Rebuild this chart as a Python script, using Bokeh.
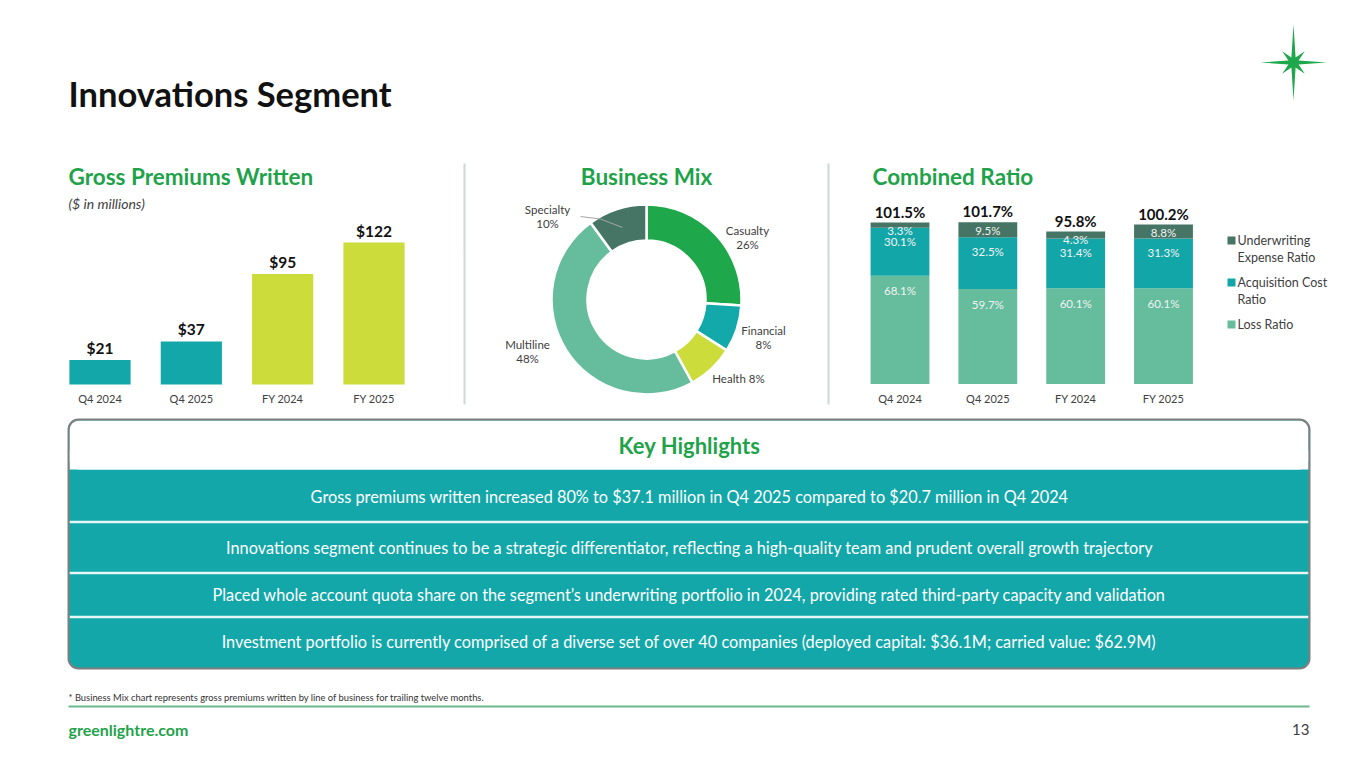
import numpy as np
from bokeh.plotting import figure
from bokeh.models import Range1d, ColumnDataSource
from bokeh.core.properties import value
from bokeh.embed import file_html
from bokeh.resources import INLINE

# ---------------- data ----------------
gpw_periods = ["Q4 2024", "Q4 2025", "FY 2024", "FY 2025"]
gpw_values = [21, 37, 95, 122]
gpw_labels = ["$21", "$37", "$95", "$122"]

mix_lines = ["Casualty", "Financial", "Health", "Multiline", "Specialty"]
mix_shares = [26, 8, 8, 48, 10]

cr_periods = ["Q4 2024", "Q4 2025", "FY 2024", "FY 2025"]
loss_ratio = [68.1, 59.7, 60.1, 60.1]
acq_ratio = [30.1, 32.5, 31.4, 31.3]
uw_ratio = [3.3, 9.5, 4.3, 8.8]
cr_total = [101.5, 101.7, 95.8, 100.2]
cr_legend = ["Underwriting\nExpense Ratio", "Acquisition Cost\nRatio", "Loss Ratio"]

highlights = [
    "Gross premiums written increased 80% to $37.1 million in Q4 2025 compared to $20.7 million in Q4 2024",
    "Innovations segment continues to be a strategic differentiator, reflecting a high-quality team and prudent overall growth trajectory",
    "Placed whole account quota share on the segment\u2019s underwriting portfolio in 2024, providing rated third-party capacity and validation",
    "Investment portfolio is currently comprised of a diverse set of over 40 companies (deployed capital: $36.1M; carried value: $62.9M)",
]

# ---------------- styles ----------------
GREEN = "#1FA34A"
TEAL = "#13A7A9"
LIME = "#CCDC3A"
LOSS_C = "#66BD9E"
ACQ_C = "#13A6A8"
UW_C = "#467566"
MIX_COLORS = ["#1EA84B", "#13A8AA", "#CCDC3A", "#66BD9E", "#467566"]
FONT = "Lato"

W, H = 1349, 748
OX, OY = 0, 0

p = figure(width=W, height=H, x_range=Range1d(OX, OX + W), y_range=Range1d(OY + H, OY),
           output_backend="svg", toolbar_location=None, min_border=0,
           x_axis_location=None, y_axis_location=None)
p.xgrid.visible = False
p.ygrid.visible = False
p.outline_line_color = None
p.background_fill_color = "white"
p.border_fill_color = "white"


def mapped_range(pa, va, pb, vb, p_start, p_end):
    s = (vb - va) / (pb - pa)
    return Range1d(va + (p_start - pa) * s, va + (p_end - pa) * s)


def txt(x, y, s, size, color="#262626", font=FONT, style="normal", align="left",
        baseline="middle", **kw):
    p.text(x=[x], y=[y], text=[s], text_font=value(font), text_font_size=f"{size}px",
           text_font_style=style, text_color=color, text_align=align,
           text_baseline=baseline, **kw)


# ---------------- header ----------------
txt(68, 93, "Innovations Segment", 34.5, color="#111111", style="bold")

# star logo
cx, cy = 1293, 62
ang = np.arange(16) * np.pi / 8
rad = []
for k in range(16):
    if k % 4 == 0:
        rad.append(33 if k % 8 == 0 else 38)
    elif k % 2 == 0:
        rad.append(16)
    else:
        rad.append(5.5)
rad = np.array(rad)
p.patch(cx + rad * np.cos(ang), cy - rad * np.sin(ang), color="#1EA84B", line_color=None)

# section headers
txt(68, 176, "Gross Premiums Written", 22.5, color=GREEN, style="bold")
txt(68, 203, "($ in millions)", 14, color="#404040", style="italic")
txt(646, 176, "Business Mix", 22.5, color=GREEN, style="bold", align="center")
txt(872, 176, "Combined Ratio", 22.5, color=GREEN, style="bold")

p.segment(x0=[464, 828], y0=[163, 163], x1=[464, 828], y1=[404, 404],
          line_color="#CFD8D2", line_width=2)

# ---------------- Gross premiums written ----------------
p.extra_x_ranges["gx"] = mapped_range(99.5, 0, 373.5, 3, OX, OX + W)
p.extra_y_ranges["gy"] = mapped_range(384, 0, 242, 122, OY + H, OY)
gidx = list(range(len(gpw_periods)))
gcol = [TEAL if s.startswith("Q4") else LIME for s in gpw_periods]
p.vbar(x=gidx, top=gpw_values, bottom=0, width=0.67, fill_color=gcol, line_color=None,
       x_range_name="gx", y_range_name="gy")
p.text(x=gidx, y=gpw_values, text=gpw_labels, y_offset=-12, text_align="center",
       text_baseline="middle", text_font=value(FONT), text_font_size="15.5px",
       text_font_style="bold", text_color="#111111", x_range_name="gx", y_range_name="gy")
p.text(x=gidx, y=[0] * len(gidx), text=gpw_periods, y_offset=14, text_align="center",
       text_baseline="middle", text_font=value(FONT), text_font_size="11px",
       text_color="#404040", x_range_name="gx", y_range_name="gy")

# ---------------- Business mix donut ----------------
p.extra_x_ranges["px"] = mapped_range(646, 0, 746, 100, OX, OX + W)
p.extra_y_ranges["py"] = mapped_range(299, 0, 199, 100, OY + H, OY)
shares = np.array(mix_shares, dtype=float)
cum = np.concatenate([[0], np.cumsum(shares)]) / shares.sum()
starts = np.pi / 2 - 2 * np.pi * cum[:-1]
ends = np.pi / 2 - 2 * np.pi * cum[1:]
p.annular_wedge(x=0, y=0, inner_radius=59, outer_radius=95, start_angle=starts,
                end_angle=ends, direction="clock", fill_color=MIX_COLORS,
                line_color="white", line_width=2.5, x_range_name="px", y_range_name="py")
LABEL_POS = [(101, 62), (117, -38), (92, -79), (-119, -52), (-99, 83)]
LABEL_SEP = ["\n", "\n", " ", "\n", "\n"]
mix_text = [f"{n}{sep}{s}%" for n, s, sep in zip(mix_lines, mix_shares, LABEL_SEP)]
p.text(x=[q[0] for q in LABEL_POS], y=[q[1] for q in LABEL_POS], text=mix_text,
       text_align="center", text_baseline="middle", text_font=value(FONT),
       text_font_size="11.5px", text_color="#404040", text_line_height=1.15,
       x_range_name="px", y_range_name="py")
p.line(x=[-66, -46, -24], y=[83, 80.5, 72], line_color="#A6A6A6", line_width=1,
       x_range_name="px", y_range_name="py")

# ---------------- Combined ratio ----------------
p.extra_x_ranges["cx"] = mapped_range(899.5, 0, 1163, 3, OX, OX + W)
p.extra_y_ranges["cy"] = mapped_range(383.5, 0, 222, 101.5, OY + H, OY)
cidx = list(range(len(cr_periods)))
loss = np.array(loss_ratio)
acq = np.array(acq_ratio)
uw = np.array(uw_ratio)
src = ColumnDataSource(dict(x=cidx, loss=loss, acq=acq, uw=uw))
p.vbar_stack(["loss", "acq", "uw"], x="x", width=0.67, color=[LOSS_C, ACQ_C, UW_C],
             line_color=None, source=src, x_range_name="cx", y_range_name="cy")
lab_kw = dict(text_align="center", text_baseline="middle", text_font=value(FONT),
              text_font_size="11.5px", text_color="#F2F2F2",
              x_range_name="cx", y_range_name="cy")
p.text(x=cidx, y=loss, text=[f"{v:.1f}%" for v in loss], y_offset=15, **lab_kw)
p.text(x=cidx, y=loss + acq, text=[f"{v:.1f}%" for v in acq], y_offset=14, **lab_kw)
p.text(x=cidx, y=loss + acq + uw, text=[f"{v:.1f}%" for v in uw], y_offset=8, **lab_kw)
p.text(x=cidx, y=cr_total, text=[f"{v:.1f}%" for v in cr_total], y_offset=-2,
       text_align="center", text_baseline="bottom", text_font=value(FONT),
       text_font_size="15px", text_font_style="bold", text_color="#111111",
       x_range_name="cx", y_range_name="cy")
p.text(x=cidx, y=[0] * len(cidx), text=cr_periods, y_offset=14, text_align="center",
       text_baseline="middle", text_font=value(FONT), text_font_size="11px",
       text_color="#404040", x_range_name="cx", y_range_name="cy")

# legend
LEG_Y = [240, 282, 324]
p.rect(x=[1231] * 3, y=LEG_Y, width=8, height=8, fill_color=[UW_C, ACQ_C, LOSS_C],
       line_color=None)
for yy, lab in zip(LEG_Y, cr_legend):
    for k, line in enumerate(lab.split("\n")):
        txt(1237, yy + 17 * k, line, 12.5, color="#404040")

# ---------------- Key highlights ----------------
BOX_L, BOX_R, BOX_T, BOX_B = 68, 1309, 419, 668
p.quad(left=BOX_L, right=BOX_R, top=BOX_T, bottom=BOX_B, fill_color=TEAL,
       line_color=None, border_radius=10)
p.quad(left=BOX_L + 1, right=BOX_R - 1, top=BOX_T + 1, bottom=469, fill_color="white",
       line_color=None, border_radius=9)
p.quad(left=BOX_L + 1, right=BOX_R - 1, top=450, bottom=469, fill_color="white",
       line_color=None)
p.segment(x0=[BOX_L + 1] * 3, y0=[521.5, 572.5, 616.5], x1=[BOX_R - 1] * 3,
          y1=[521.5, 572.5, 616.5], line_color="#E4F6F6", line_width=2.5)
p.quad(left=BOX_L, right=BOX_R, top=BOX_T, bottom=BOX_B, fill_color=None,
       line_color="#7E7E7E", line_width=2, border_radius=10)
txt(689, 445, "Key Highlights", 22, color=GREEN, style="bold", align="center")
ROW_Y = [496, 547, 594, 641]
p.text(x=[689] * len(highlights), y=ROW_Y, text=highlights, text_align="center",
       text_baseline="middle", text_font=value(FONT), text_font_size="16.3px",
       text_color="white")

# ---------------- footer ----------------
txt(68, 697, "* Business Mix chart represents gross premiums written by line of business for trailing twelve months.",
    9.4, color="#333333")
p.segment(x0=[68], y0=[706], x1=[1309], y1=[706], line_color="#6DB88F", line_width=2)
txt(68, 729, "greenlightre.com", 16, color=GREEN, style="bold")
txt(1309, 729, "13", 15, color="#404040", align="right")

open("out.html", "w").write(file_html(p, INLINE))
